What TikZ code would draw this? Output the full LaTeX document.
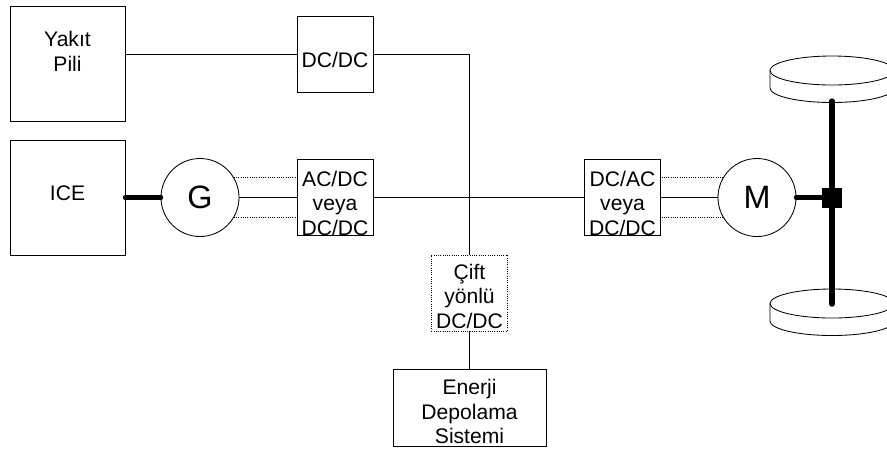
\documentclass[tikz,border=0pt]{standalone}
\usepackage{fontspec}
\setmainfont{Liberation Sans}
\usetikzlibrary{calc}
\tikzset{
  blockbox/.style={draw, line width=0.6pt, minimum width=1.9cm, minimum height=1.9cm, inner sep=0pt},
  bigbox/.style={draw, line width=0.6pt, minimum width=2.875cm, minimum height=2.875cm, inner sep=0pt},
  machine/.style={draw, line width=0.6pt, circle, minimum size=1.95cm, inner sep=0pt, font=\fontsize{23}{24}\selectfont},
  boxtext/.style={inner sep=0pt, align=center, font=\fontsize{15}{17.4}\selectfont},
  wire/.style={draw, line width=0.6pt},
  phase/.style={draw, line width=0.6pt, densely dotted},
  shaft/.style={draw, line width=3.9pt, line cap=round},
}
\begin{document}
\begin{tikzpicture}[x=0.025cm, y=-0.025cm]
    \useasboundingbox (0,0) rectangle (887,450);

    % Wheels
    \draw[wire] (832,70.5) ellipse [x radius=62, y radius=14.5];
    \draw[wire] (770,70.5) -- (770,88) arc [start angle=180, end angle=0, x radius=62, y radius=14.5];
    \draw[wire] (832,303.5) ellipse [x radius=62, y radius=14.5];
    \draw[wire] (770,303.5) -- (770,321) arc [start angle=180, end angle=0, x radius=62, y radius=14.5];

    % Blocks
    \node[bigbox] (yakit) at (67.5,63.5) {};
    \node[bigbox] (ice) at (67.5,197.5) {};
    \node[blockbox] (dcdc) at (335,54) {};
    \node[blockbox] (acdc) at (335,197.5) {};
    \node[blockbox] (dcac) at (622.5,197.5) {};
    \node[blockbox, densely dotted] (cift) at (469.5,293) {};
    \node[draw, line width=0.6pt, minimum width=3.825cm, minimum height=1.925cm, inner sep=0pt] (enerji) at (469.5,407.5) {};
    \node[machine] (g) at (200,197.5) {G};
    \node[machine] (m) at (757,197.5) {M};

    % Texts
    \node[boxtext] (yakittext) at (67.5,51.5) {Yakıt\\Pili};
    \node[boxtext] (icetext) at (67.5,193) {ICE};
    \node[boxtext] (dcdctext) at (335,60) {DC/DC};
    \node[boxtext] (acdctext) at (335,203) {AC/DC\\veya\\DC/DC};
    \node[boxtext] (dcactext) at (622.5,203) {DC/AC\\veya\\DC/DC};
    \node[boxtext] (ciftext) at (469.5,296) {Çift\\yönlü\\DC/DC};
    \node[boxtext] (enerjitext) at (469.5,411.5) {Enerji\\Depolama\\Sistemi};

    % Wires
    \draw[wire] (yakit.east |- dcdc.west) -- (dcdc.west);
    \draw[wire] (dcdc.east) -| (cift.north);
    \draw[wire] (cift.south) -- (enerji.north);
    \draw[wire] (g.east) -- (acdc.west);
    \draw[wire] (acdc.east) -- (dcac.west);
    \draw[wire] (dcac.east) -- (m.west);
    \draw[phase] (g.31) -- (g.31 -| acdc.west);
    \draw[phase] (g.-31) -- (g.-31 -| acdc.west);
    \draw[phase] (m.149) -- (m.149 -| dcac.east);
    \draw[phase] (m.-149) -- (m.-149 -| dcac.east);

    % Shafts
    \node[fill=black, minimum size=0.5cm, inner sep=0pt] (hub) at (832,197.5) {};
    \coordinate (axletop) at (832,101);
    \coordinate (axlebottom) at (832,304);
    \draw[shaft] (axletop) -- (axlebottom);
    \draw[shaft] (ice.east) -- (g.west);
    \draw[shaft] (m.east) -- (hub.west);
\end{tikzpicture}
\end{document}
